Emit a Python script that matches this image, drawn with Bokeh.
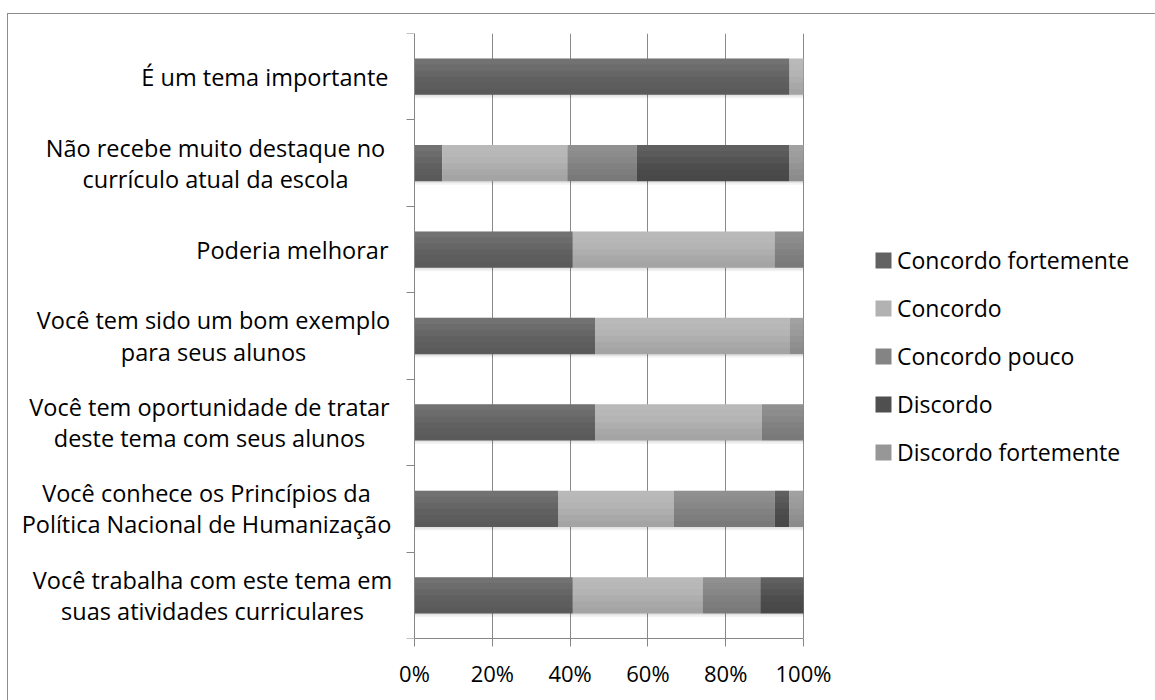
from bokeh.plotting import figure
from bokeh.models import (ColumnDataSource, Range1d, FixedTicker, PrintfTickFormatter,
                          Legend, LegendItem)
from bokeh.core.properties import value
from bokeh.embed import file_html
from bokeh.resources import INLINE

# ---- data (top to bottom) ----
categories = [
    "É um tema importante",
    "Não recebe muito destaque no\ncurrículo atual da escola",
    "Poderia melhorar",
    "Você tem sido um bom exemplo\npara seus alunos",
    "Você tem oportunidade de tratar\ndeste tema com seus alunos",
    "Você conhece os Princípios da\nPolítica Nacional de Humanização",
    "Você trabalha com este tema em\nsuas atividades curriculares",
]
series_names = ["Concordo fortemente", "Concordo", "Concordo pouco", "Discordo", "Discordo fortemente"]
concordo_fortemente = [96.4, 7.1, 40.7, 46.4, 46.4, 37.0, 40.7]
concordo = [3.6, 32.2, 51.9, 50.0, 42.9, 29.7, 33.4]
concordo_pouco = [0.0, 17.8, 7.4, 0.0, 10.7, 25.9, 14.8]
discordo = [0.0, 39.3, 0.0, 0.0, 0.0, 3.7, 11.1]
discordo_fortemente = [0.0, 3.6, 0.0, 3.6, 0.0, 3.7, 0.0]
x_ticks = [0, 20, 40, 60, 80, 100]

colors = ["#626262", "#b2b2b2", "#848484", "#4f4f4f", "#979797"]
FONT = "Open Sans"

# ---- layout geometry (pixels) ----
FIG_W, FIG_H = 1148, 687          # canvas, placed at page (8, 14)
PX_PER_PCT = 3.89                 # 100% = 389 px
ZERO_PX = 406                     # canvas x of 0 %
LABEL_RIGHT_PX = 380              # canvas x of right edge of single-line labels
label_center_px = [None, 207, None, 205, 201, 198, 204]   # canvas x of two-line label block centres

x_start = -ZERO_PX / PX_PER_PCT
x_end = (FIG_W - ZERO_PX) / PX_PER_PCT
to_x = lambda px: (px - ZERO_PX) / PX_PER_PCT

n = len(categories)
ypos = [n - 0.5 - i for i in range(n)]
keys = ["cf", "c", "cp", "d", "df"]
data = dict(y=ypos, cf=concordo_fortemente, c=concordo, cp=concordo_pouco,
            d=discordo, df=discordo_fortemente)
data["total"] = [sum(v) for v in zip(concordo_fortemente, concordo, concordo_pouco, discordo, discordo_fortemente)]
data["y_sh1"] = [y - 0.02 for y in ypos]
data["y_sh2"] = [y - 0.04 for y in ypos]
source = ColumnDataSource(data)

single = [i for i, c in enumerate(categories) if "\n" not in c]
double = [i for i, c in enumerate(categories) if "\n" in c]
src_single = ColumnDataSource(dict(x=[to_x(LABEL_RIGHT_PX)] * len(single),
                                   y=[ypos[i] for i in single],
                                   label=[categories[i] for i in single]))
src_double = ColumnDataSource(dict(x=[to_x(label_center_px[i]) for i in double],
                                   y=[ypos[i] for i in double],
                                   label=[categories[i] for i in double]))

p = figure(width=FIG_W, height=FIG_H, output_backend="svg", toolbar_location=None,
           x_range=Range1d(x_start, x_end), y_range=Range1d(0, n),
           min_border_left=0, min_border_right=0, min_border_top=19, min_border_bottom=63)
p.margin = (13, 0, 0, 7)
p.styles = {"border-left": "1px solid #8c8c8c", "border-top": "1px solid #8c8c8c"}
p.outline_line_color = None
p.background_fill_color = "white"
p.border_fill_color = "white"

BAR_H = 0.42
# soft shadow
p.hbar(y="y_sh2", left=0, right="total", height=BAR_H, source=source,
       fill_color="black", fill_alpha=0.05, line_color=None)
p.hbar(y="y_sh1", left=0, right="total", height=BAR_H, source=source,
       fill_color="black", fill_alpha=0.06, line_color=None)

renderers = p.hbar_stack(keys, y="y", height=BAR_H, color=colors, source=source,
                         line_color=None)

# vertical shading (light at top, darker at bottom)
NS = 6
shade = [("white", 0.10), ("white", 0.065), ("white", 0.03), ("black", 0.02), ("black", 0.05), ("black", 0.08)]
for k, (col, a) in enumerate(shade):
    off = BAR_H / 2 - (k + 0.5) * BAR_H / NS
    src_k = ColumnDataSource(dict(y=[y + off for y in ypos], total=data["total"]))
    p.hbar(y="y", left=0, right="total", height=BAR_H / NS, source=src_k,
           fill_color=col, fill_alpha=a, line_color=None)

# category labels
label_style = dict(text_baseline="middle", text_font=value(FONT), text_font_size=value("23.5px"),
                   text_color="black", text_line_height=0.97)
p.text(x="x", y="y", text="label", source=src_single, text_align="right", **label_style)
p.text(x="x", y="y", text="label", source=src_double, text_align="center", **label_style)

# axes
xa = p.xaxis[0]
xa.bounds = (0, 100)
xa.ticker = FixedTicker(ticks=x_ticks, minor_ticks=[])
xa.formatter = PrintfTickFormatter(format="%d%%")
xa.axis_line_color = "#868686"
xa.major_tick_line_color = "#868686"
xa.major_tick_out = 8
xa.major_tick_in = 0
xa.major_label_text_font = FONT
xa.major_label_text_font_size = "22px"
xa.major_label_text_color = "black"
xa.major_label_standoff = 11

ya = p.yaxis[0]
ya.fixed_location = 0
ya.ticker = FixedTicker(ticks=[], minor_ticks=list(range(n + 1)))
ya.axis_line_color = "#868686"
ya.major_tick_line_color = None
ya.minor_tick_line_color = "#868686"
ya.minor_tick_out = 8
ya.minor_tick_in = 0

p.xgrid.ticker = FixedTicker(ticks=x_ticks)
p.xgrid.grid_line_color = "#8a8a8a"
p.ygrid.grid_line_color = None

legend = Legend(items=[LegendItem(label=nm, renderers=[r]) for nm, r in zip(series_names, renderers)],
                location=(865, 170), orientation="vertical")
legend.label_text_font = FONT
legend.label_text_font_size = "23px"
legend.label_text_color = "black"
legend.glyph_width = 20
legend.glyph_height = 20
legend.label_standoff = 4
legend.spacing = 16
legend.padding = 0
legend.margin = 0
legend.border_line_color = None
legend.background_fill_alpha = 0
p.add_layout(legend, "center")

open("out.html", "w").write(file_html(p, INLINE))
